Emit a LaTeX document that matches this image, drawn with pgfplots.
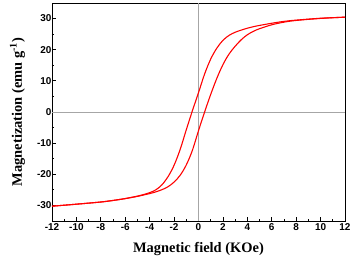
\documentclass[border=0pt]{standalone}
\usepackage{fontspec}
\setmainfont{Liberation Serif}
\setsansfont{Liberation Sans}
\usepackage{pgfplots}
\pgfplotsset{compat=1.18}
\begin{document}
\begin{tikzpicture}
\begin{axis}[
  scale only axis,
  width=293bp, height=218bp,
  xmin=-12, xmax=12, ymin=-35, ymax=35,
  xtick={-12,-10,...,12},
  xticklabels={-12,-10,-8,-6,-4,-2,0,2,4,6,8,10,12},
  ytick={-30,-20,...,30},
  yticklabels={-30,-20,-10,0,10,20,30},
  minor x tick num=1, minor y tick num=1,
  tick align=inside,
  xtick pos=bottom, ytick pos=left,
  major tick length=4bp, minor tick length=2.5bp,
  every tick/.style={black, line width=0.8pt},
  axis line style={line width=1pt},
  tick label style={font=\sffamily\bfseries\fontsize{10}{11}\selectfont},
  yticklabel style={xshift=3bp},
  xticklabel style={yshift=1bp},
  xlabel={\textbf{Magnetic field (KOe)}},
  ylabel={\textbf{Magnetization (emu g\textsuperscript{-1})}},
  label style={font=\fontsize{14.5}{16}\selectfont},
  xlabel style={at={(axis description cs:0.5,0)}, anchor=center, yshift=-28bp},
  ylabel style={at={(axis description cs:-0.118,0.5)}, anchor=center},
  clip=true,
]
\addplot[gray!70, line width=0.6pt, forget plot] coordinates {(0,-35) (0,35)};
\addplot[gray!70, line width=0.6pt, forget plot] coordinates {(-12,0) (12,0)};
% descending branch
\addplot[red, line width=1.1pt, smooth, tension=0.55] coordinates {
(12,30.45) (10,30.1) (8,29.5) (7,29.1) (6,28.5) (5,27.8) (4.5,27.4) (4,26.9) (3.5,26.3) (3,25.6) (2.5,24.6) (2,23.0) (1.5,20.5) (1,17.0) (0.5,12.2) (0,6.2) (-0.5,0.4) (-1,-5.7) (-1.5,-12.0) (-2,-17.1) (-2.5,-20.8) (-3,-23.4) (-3.5,-25.0) (-4,-25.9) (-4.5,-26.5) (-5,-27.0) (-6,-27.8) (-7,-28.4) (-8,-28.9) (-10,-29.6) (-12,-30.25)
};
% ascending branch
\addplot[red, line width=1.1pt, smooth, tension=0.55] coordinates {
(-12,-30.25) (-10,-29.6) (-8,-28.9) (-7,-28.4) (-6,-27.8) (-5,-27.1) (-4.5,-26.65) (-4,-26.2) (-3.5,-25.65) (-3,-24.95) (-2.5,-24.0) (-2,-22.5) (-1.5,-20.3) (-1,-17.0) (-0.5,-12.3) (0,-6.0) (0.5,0.0) (1,5.65) (1.5,10.8) (2,15.2) (2.5,18.6) (3,21.1) (3.5,23.2) (4,24.8) (4.5,25.9) (5,26.75) (6,28.0) (7,28.85) (8,29.4) (10,30.05) (12,30.45)
};
\end{axis}
\pgfresetboundingbox
\path (current axis.south west) ++(-52bp,-36bp) rectangle ([shift={(7bp,3bp)}]current axis.north east);
\end{tikzpicture}
\end{document}
